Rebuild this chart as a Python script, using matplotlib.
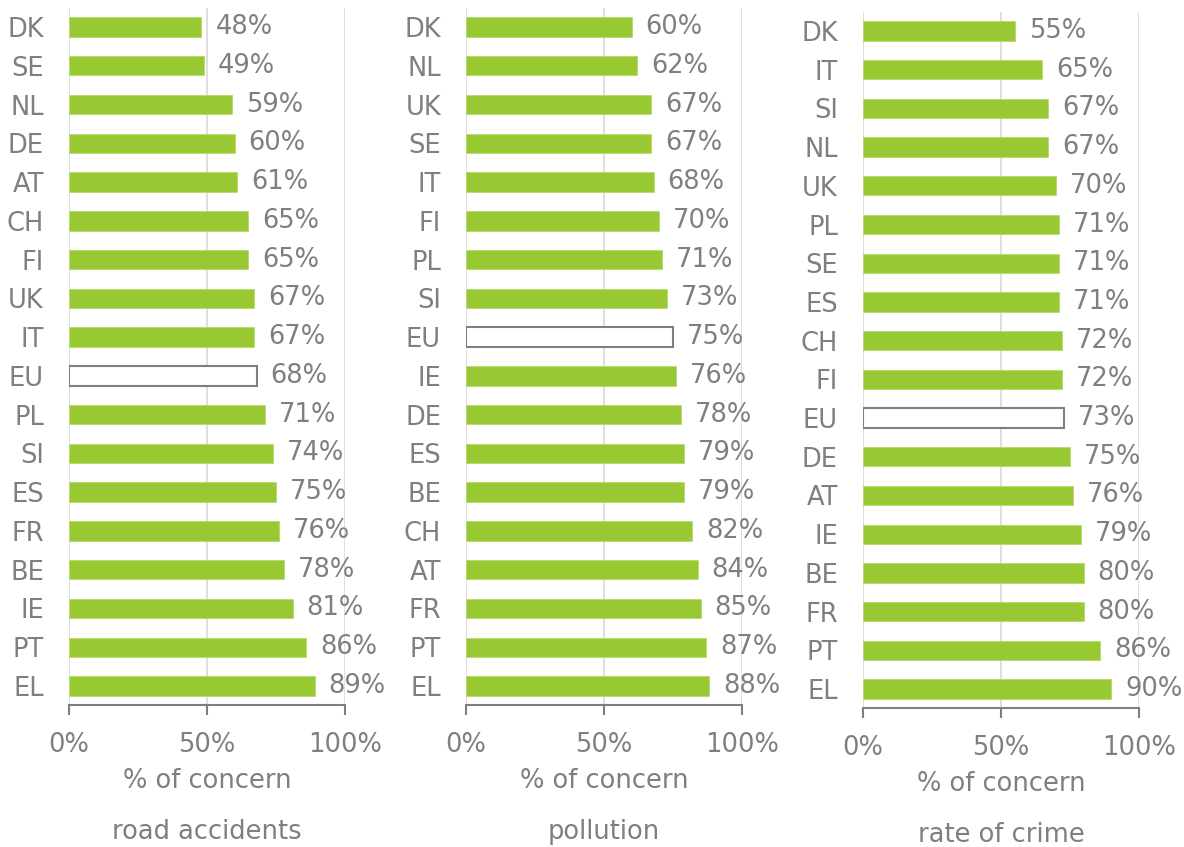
import matplotlib
matplotlib.use("Agg")
import matplotlib.pyplot as plt

# ---- data ----
road_countries = ["DK", "SE", "NL", "DE", "AT", "CH", "FI", "UK", "IT", "EU",
                  "PL", "SI", "ES", "FR", "BE", "IE", "PT", "EL"]
road_values = [48, 49, 59, 60, 61, 65, 65, 67, 67, 68, 71, 74, 75, 76, 78, 81, 86, 89]

poll_countries = ["DK", "NL", "UK", "SE", "IT", "FI", "PL", "SI", "EU", "IE",
                  "DE", "ES", "BE", "CH", "AT", "FR", "PT", "EL"]
poll_values = [60, 62, 67, 67, 68, 70, 71, 73, 75, 76, 78, 79, 79, 82, 84, 85, 87, 88]

crime_countries = ["DK", "IT", "SI", "NL", "UK", "PL", "SE", "ES", "CH", "FI",
                   "EU", "DE", "AT", "IE", "BE", "FR", "PT", "EL"]
crime_values = [55, 65, 67, 67, 70, 71, 71, 71, 72, 72, 73, 75, 76, 79, 80, 80, 86, 90]

titles = ["road accidents", "pollution", "rate of crime"]
xlabel = "% of concern"
xticks = [0, 50, 100]
xticklabels = ["0%", "50%", "100%"]

GREEN = "#98C832"
GRAY = "#7F7F7F"
GRID = "#D9D9D9"
FS = 18.5

W, H = 1184, 847
plt.rcParams['font.family'] = ['DejaVu Sans']
fig = plt.figure(figsize=(W / 100, H / 100), dpi=100)

# panel geometry in pixels: (x0, x1, ytop, ybottom)
geoms = [(69, 345, 7.6, 705.4), (466, 742, 7.6, 705.4), (863, 1139, 11.6, 708.4)]
label_y = [781, 781, 784]
title_y = [832, 832, 835]

panels = [(road_countries, road_values), (poll_countries, poll_values),
          (crime_countries, crime_values)]

for (cats, vals), (x0, x1, yt, yb), title, ly, ty in zip(panels, geoms, titles, label_y, title_y):
    ax = fig.add_axes([x0 / W, (H - yb) / H, (x1 - x0) / W, (yb - yt) / H])
    n = len(cats)
    ypos = list(range(n))
    for i, (c, v) in enumerate(zip(cats, vals)):
        if c == "EU":
            ax.barh(i, v, height=0.5, color="white", edgecolor=GRAY, linewidth=1.5, zorder=3)
        else:
            ax.barh(i, v, height=0.5, color=GREEN, edgecolor="#B5DA6E", linewidth=0.6, zorder=3)
        ax.annotate(f"{v}%", xy=(v, i), xytext=(10, 0), textcoords="offset points",
                    ha="left", va="center", fontsize=FS, color=GRAY)
    ax.set_ylim(n - 0.5, -0.5)
    ax.set_xlim(0, 100)
    ax.set_yticks(ypos)
    ax.set_yticklabels(cats)
    ax.set_xticks(xticks)
    ax.set_xticklabels(xticklabels)
    ax.tick_params(axis="y", length=0, pad=18, labelsize=FS, labelcolor=GRAY)
    ax.tick_params(axis="x", length=7, width=1.5, color=GRAY, pad=12, labelsize=FS, labelcolor=GRAY)
    for s in ["top", "right", "left"]:
        ax.spines[s].set_visible(False)
    ax.spines["bottom"].set_color(GRAY)
    ax.spines["bottom"].set_linewidth(1.5)
    ax.xaxis.grid(True, color=GRID, linewidth=1.2, zorder=0)
    ax.set_axisbelow(True)
    cx = (x0 + x1) / 2 / W
    fig.text(cx, (H - ly) / H, xlabel, ha="center", va="center", fontsize=FS, color=GRAY)
    fig.text(cx, (H - ty) / H, title, ha="center", va="center", fontsize=FS, color=GRAY)

fig.savefig("out.png", dpi=100)
